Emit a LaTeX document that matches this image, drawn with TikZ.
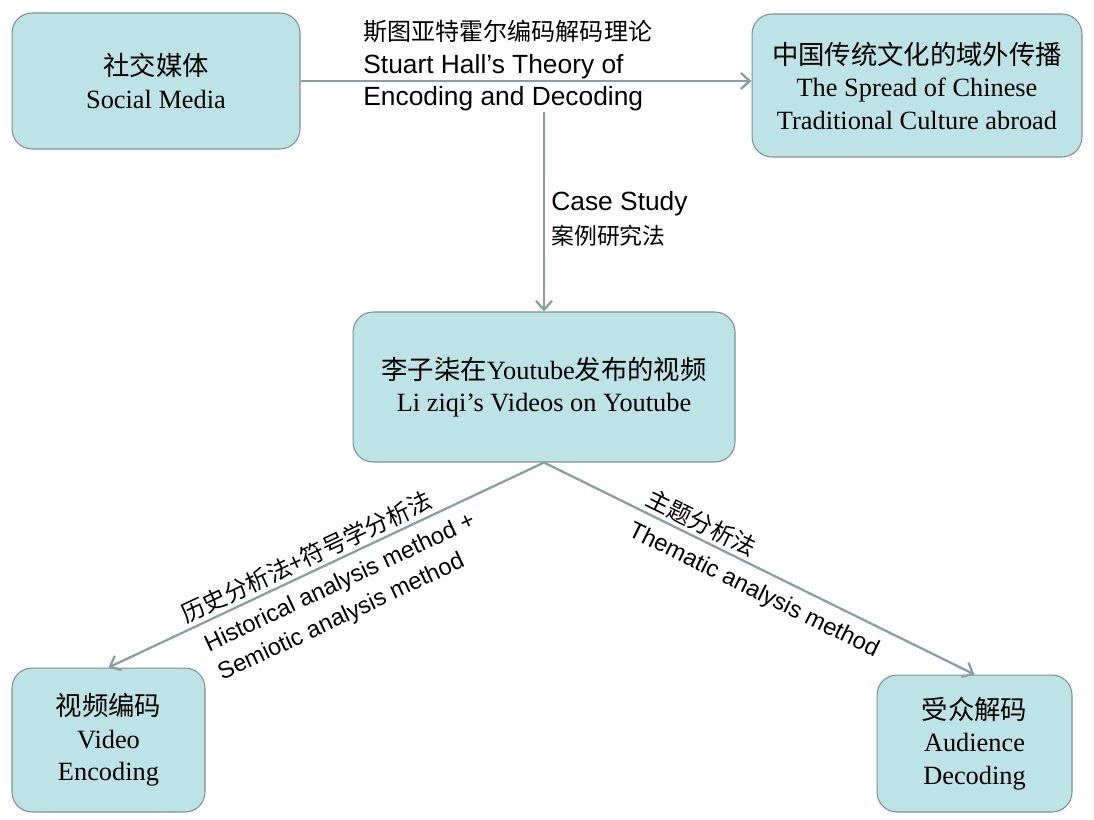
\documentclass[tikz,border=0pt]{standalone}
\usepackage{fontspec}
\setmainfont{Liberation Serif}
\setsansfont{Liberation Sans}
\newfontfamily\cjk{Noto Sans CJK SC}
\usetikzlibrary{arrows.meta}
\definecolor{boxfill}{RGB}{190,227,231}
\definecolor{boxline}{RGB}{125,145,145}
\definecolor{arrowline}{RGB}{138,160,160}

\begin{document}
\begin{tikzpicture}[
                            x=0.02cm, y=-0.02cm,
                            >={Straight Barb[length=1.8mm,width=3.2mm]},
                            block/.style={rectangle, rounded corners=0.4cm, draw=boxline, line width=0.6pt, fill=boxfill, align=center, inner sep=0pt, font=\fontsize{15}{18.5}\selectfont},
                            link/.style={->, draw=arrowline, line width=1.3pt},
                            lbl/.style={font=\sffamily\fontsize{13.5}{18}\selectfont, sloped, align=left}
                        ]
                        \useasboundingbox (0,0) rectangle (1094,819);
                        % Blocks
                        \node [block, minimum width=5.76cm, minimum height=2.72cm] (social) at (156,81) {{\cjk 社交媒体}\\Social Media};
                        \node [block, minimum width=6.6cm, minimum height=2.86cm] (spread) at (917,85.5) {{\cjk 中国传统文化的域外传播}\\The Spread of Chinese\\Traditional Culture abroad};
                        \node [block, minimum width=7.64cm, minimum height=3cm] (mid) at (544,387) {{\cjk 李子柒在}Youtube{\cjk 发布的视频}\\Li ziqi’s Videos on Youtube};
                        \node [block, minimum width=3.86cm, minimum height=2.88cm] (enc) at (108.5,740) {{\cjk 视频编码}\\Video\\Encoding};
                        \node [block, minimum width=3.9cm, minimum height=2.74cm] (dec) at (974.5,743.5) {{\cjk 受众解码}\\Audience\\Decoding};

                        % Labels
                        \node [anchor=west, align=left, inner sep=0pt, font=\sffamily\fontsize{15}{18.5}\selectfont] (hall) at (363,66) {{\cjk\fontsize{13.7}{18.5}\selectfont 斯图亚特霍尔编码解码理论}\\Stuart Hall’s Theory of\\Encoding and Decoding};
                        \node [anchor=west, align=left, inner sep=0pt, font=\sffamily\fontsize{15}{19}\selectfont] (case) at (551,219) {Case Study\\{\cjk\fontsize{13}{19}\selectfont 案例研究法}};

                        % Connections
                        \draw [link] (social.east) -- (social.east -| spread.west);
                        \draw [link] (hall.south -| mid.north) -- (mid.north);
                        \draw [link] (mid.south) --node[lbl, above, pos=0.53, inner sep=2pt]{\cjk 历史分析法+符号学分析法} node[lbl, below, pos=0.49, inner sep=6pt]{Historical analysis method +\\Semiotic analysis method} (enc.north);
                        \draw [link] (mid.south) --node[lbl, above, pos=0.35, inner sep=2pt]{\cjk 主题分析法} node[lbl, below, pos=0.51, inner sep=6pt]{Thematic analysis method} (dec.north);
                    \end{tikzpicture}
\end{document}
